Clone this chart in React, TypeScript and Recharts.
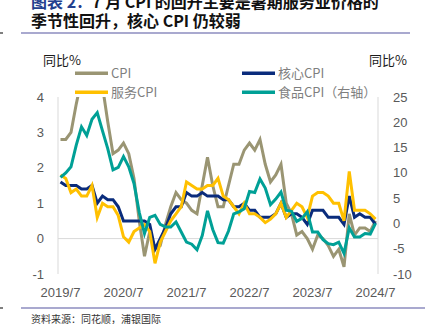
import { FC } from 'react';
import { LineChart, Line, XAxis, YAxis, ReferenceLine } from 'recharts';

// 月份 2019/7 - 2024/7
const months = [
    '2019/7', '2019/8', '2019/9', '2019/10', '2019/11', '2019/12',
    '2020/1', '2020/2', '2020/3', '2020/4', '2020/5', '2020/6', '2020/7', '2020/8', '2020/9', '2020/10', '2020/11', '2020/12',
    '2021/1', '2021/2', '2021/3', '2021/4', '2021/5', '2021/6', '2021/7', '2021/8', '2021/9', '2021/10', '2021/11', '2021/12',
    '2022/1', '2022/2', '2022/3', '2022/4', '2022/5', '2022/6', '2022/7', '2022/8', '2022/9', '2022/10', '2022/11', '2022/12',
    '2023/1', '2023/2', '2023/3', '2023/4', '2023/5', '2023/6', '2023/7', '2023/8', '2023/9', '2023/10', '2023/11', '2023/12',
    '2024/1', '2024/2', '2024/3', '2024/4', '2024/5', '2024/6', '2024/7',
];

// CPI 同比 %
const cpi = [
    2.8, 2.8, 3.0, 3.8, 4.5, 4.5,
    5.4, 5.2, 4.3, 3.3, 2.4, 2.5, 2.7, 2.4, 1.7, 0.5, -0.5, 0.2,
    -0.3, -0.2, 0.4, 0.9, 1.3, 1.1, 1.0, 0.8, 0.7, 1.5, 2.3, 1.5,
    0.9, 0.9, 1.5, 2.1, 2.1, 2.5, 2.7, 2.5, 2.8, 2.1, 1.6, 1.8,
    2.1, 1.0, 0.7, 0.1, 0.2, 0.0, -0.3, 0.1, 0.0, -0.2, -0.5, -0.3,
    -0.8, 0.7, 0.1, 0.3, 0.3, 0.2, 0.5,
];

// 核心CPI
const coreCpi = [
    1.6, 1.5, 1.5, 1.5, 1.4, 1.4,
    1.5, 1.0, 1.2, 1.1, 1.1, 0.9, 0.5, 0.5, 0.5, 0.5, 0.5, 0.4,
    -0.3, 0.0, 0.3, 0.7, 0.9, 0.9, 1.3, 1.2, 1.2, 1.3, 1.2, 1.2,
    1.2, 1.1, 1.1, 0.9, 0.9, 1.0, 0.8, 0.8, 0.6, 0.6, 0.6, 0.7,
    1.0, 0.6, 0.7, 0.7, 0.6, 0.4, 0.8, 0.8, 0.8, 0.6, 0.6, 0.6,
    0.4, 1.2, 0.6, 0.7, 0.6, 0.6, 0.4,
];

// 服务CPI
const serviceCpi = [
    1.8, 1.7, 1.3, 1.4, 1.2, 1.2,
    1.5, 0.6, 1.0, 0.9, 0.9, 0.65, 0.05, -0.1, 0.2, 0.3, 0.4, 0.2,
    -0.7, -0.1, 0.2, 0.5, 0.7, 0.9, 1.6, 1.5, 1.4, 1.4, 1.5, 1.5,
    1.7, 1.2, 1.1, 0.9, 0.7, 1.0, 0.7, 0.7, 0.6, 0.45, 0.55, 0.7,
    1.0, 0.6, 0.8, 1.0, 0.9, 0.6, 1.2, 1.3, 1.3, 1.2, 1.0, 1.0,
    0.5, 1.9, 0.8, 0.8, 0.8, 0.7, 0.55,
];

// 食品CPI（右轴）
const foodCpi = [
    9.1, 10.0, 11.2, 15.5, 19.1, 17.4,
    20.6, 21.9, 18.3, 14.8, 10.6, 11.1, 13.2, 11.2, 7.9, 2.2, -2.0, 1.2,
    1.6, -0.2, -0.7, -0.7, 0.3, -1.7, -3.7, -4.1, -5.2, -2.4, 2.5, -1.2,
    -3.8, -3.9, -1.5, 1.9, 2.3, 2.9, 6.3, 6.1, 8.8, 7.0, 3.7, 4.8,
    6.2, 2.6, 2.4, 0.4, 1.0, 2.3, -1.7, -1.7, -3.2, -4.0, -4.2, -3.7,
    -5.9, -0.9, -2.7, -2.7, -2.0, -2.1, 0.0,
];

const leftTicks = [-1, 0, 1, 2, 3, 4];
const rightTicks = [-10, -5, 0, 5, 10, 15, 20, 25];

const data = months.map((month, i) => ({
    month,
    cpi: cpi[i],
    core: coreCpi[i],
    service: serviceCpi[i],
    food: foodCpi[i],
}));

const COLORS = {
    cpi: '#9a9573',
    core: '#0a2c7c',
    service: '#ffc000',
    food: '#00a096',
};

const tickStyle = { fill: '#595959', fontSize: 13, fontFamily: '"Liberation Sans", Arial, sans-serif' };
const cjk = '"Noto Sans CJK SC", sans-serif';

const App: FC = () => {
    return (
        <div style={{ position: 'absolute', left: 0, top: 0, width: 434, height: 324, overflow: 'hidden', background: '#fff' }}>
            <LineChart
                width={434}
                height={324}
                data={data}
                margin={{ top: 97, right: 6, bottom: 20, left: 8 }}
            >
                <XAxis
                    dataKey="month"
                    interval={11}
                    axisLine={false}
                    tickLine={false}
                    tickMargin={8}
                    height={30}
                    padding={{ left: 2.5, right: 2.5 }}
                    tick={tickStyle}
                />
                <YAxis
                    yAxisId="left"
                    domain={[-1, 4]}
                    ticks={leftTicks}
                    allowDataOverflow
                    width={50}
                    tickLine={false}
                    tickMargin={8}
                    axisLine={{ stroke: '#d9d9d9' }}
                    tick={tickStyle}
                />
                <YAxis
                    yAxisId="right"
                    orientation="right"
                    domain={[-10, 25]}
                    ticks={rightTicks}
                    allowDataOverflow
                    width={50}
                    tickLine={false}
                    tickMargin={9}
                    axisLine={{ stroke: '#d9d9d9' }}
                    tick={tickStyle}
                />
                <ReferenceLine yAxisId="left" y={0} stroke="#d9d9d9" />

                <Line yAxisId="left" dataKey="cpi" stroke={COLORS.cpi} strokeWidth={3} dot={false} isAnimationActive={false} />
                <Line yAxisId="left" dataKey="core" stroke={COLORS.core} strokeWidth={3} dot={false} isAnimationActive={false} />
                <Line yAxisId="left" dataKey="service" stroke={COLORS.service} strokeWidth={3} dot={false} isAnimationActive={false} />
                <Line yAxisId="right" dataKey="food" stroke={COLORS.food} strokeWidth={3} dot={false} isAnimationActive={false} />
            </LineChart>

            {/* 标题、图例、注释 */}
            <svg width={434} height={324} style={{ position: 'absolute', left: 0, top: 0, pointerEvents: 'none' }}>
                <text x={31} y={7.5} fontSize={16} fontWeight={700} fontFamily={cjk}>
                    <tspan fill="#23408e">图表 2：</tspan>
                    <tspan fill="#111">7 月 CPI 的回升主要是暑期服务业价格的</tspan>
                </text>
                <text x={31} y={27} fontSize={16} fontWeight={700} fontFamily={cjk} fill="#111">
                    季节性回升，核心 CPI 仍较弱
                </text>
                <line x1={0} x2={3} y1={33} y2={33} stroke="#555" strokeWidth={1.5} />
                <line x1={21} x2={410} y1={33} y2={33} stroke="#8c8cbf" strokeWidth={1.5} />

                <text x={43} y={65} fontSize={13} fontFamily={cjk} fill="#1a1a1a">同比%</text>
                <text x={369} y={65} fontSize={13} fontFamily={cjk} fill="#1a1a1a">同比%</text>

                <line x1={75} x2={108} y1={73.3} y2={73.3} stroke={COLORS.cpi} strokeWidth={3.5} />
                <text x={111} y={78} fontSize={13} fontFamily={cjk} fill="#7f7f7f">CPI</text>
                <line x1={75} x2={108} y1={92.3} y2={92.3} stroke={COLORS.service} strokeWidth={3.5} />
                <text x={111} y={97} fontSize={13} fontFamily={cjk} fill="#7f7f7f">服务CPI</text>
                <line x1={242} x2={275} y1={73.3} y2={73.3} stroke={COLORS.core} strokeWidth={3.5} />
                <text x={278} y={78} fontSize={13} fontFamily={cjk} fill="#7f7f7f">核心CPI</text>
                <line x1={242} x2={275} y1={92.3} y2={92.3} stroke={COLORS.food} strokeWidth={3.5} />
                <text x={278} y={97} fontSize={13} fontFamily={cjk} fill="#7f7f7f">食品CPI（右轴）</text>

                <line x1={0} x2={3} y1={308} y2={308} stroke="#555" strokeWidth={1.5} />
                <line x1={21} x2={425} y1={308} y2={308} stroke="#8c8cbf" strokeWidth={1.5} />
                <text x={31} y={322.5} fontSize={10} fontFamily={cjk} fill="#333">资料来源：同花顺，浦银国际</text>
            </svg>
        </div>
    );
};

export default App;
